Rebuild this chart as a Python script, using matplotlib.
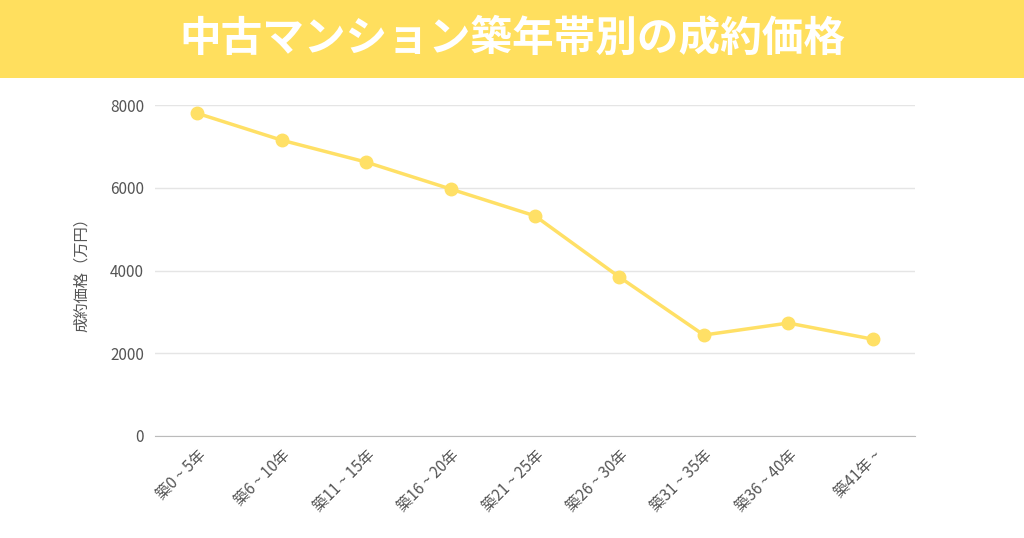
import matplotlib
matplotlib.use("Agg")
import matplotlib.pyplot as plt

categories = ["築0 ~ 5年", "築6 ~ 10年", "築11 ~ 15年", "築16 ~ 20年", "築21 ~ 25年",
              "築26 ~ 30年", "築31 ~ 35年", "築36 ~ 40年", "築41年 ~"]
prices = [7800, 7150, 6620, 5970, 5320, 3840, 2440, 2730, 2340]
yticks = [0, 2000, 4000, 6000, 8000]
title = "中古マンション築年帯別の成約価格"
ylabel = "成約価格（万円）"

plt.rcParams["font.family"] = "Noto Sans CJK JP"
fig = plt.figure(figsize=(10.24, 5.38), dpi=100)
fig.patch.set_facecolor("white")
bar = fig.add_axes([0, 1 - 78/538, 1, 78/538])
bar.set_facecolor("#FFDF5E")
bar.set_xticks([]); bar.set_yticks([])
for s in bar.spines.values():
    s.set_visible(False)
bar.text(0.5, 0.5, title, ha="center", va="center", color="white",
         fontsize=30, fontweight="bold", transform=bar.transAxes)

ax = fig.add_axes([155/1024, 1 - 436/538, 760/1024, (436-105)/538])
x = list(range(len(categories)))
ax.plot(x, prices, color="#FFE066", linewidth=2.5, marker="o", markersize=9)
ax.set_xlim(-0.5, len(categories) - 0.5)
ax.set_ylim(0, 8000)
ax.set_yticks(yticks)
ax.set_yticklabels([str(t) for t in yticks], color="#555555", fontsize=11)
ax.set_xticks(x)
ax.set_xticklabels(categories, rotation=45, ha="right", rotation_mode="anchor",
                   color="#555555", fontsize=11)
ax.tick_params(length=0, pad=8)
ax.grid(axis="y", color="#E5E5E5", linewidth=1)
ax.set_axisbelow(True)
for k in ["top", "right", "left"]:
    ax.spines[k].set_visible(False)
ax.spines["bottom"].set_color("#BBBBBB")
ax.set_ylabel(ylabel, color="#555555", fontsize=11, labelpad=14)
fig.savefig("out.png", dpi=100)
